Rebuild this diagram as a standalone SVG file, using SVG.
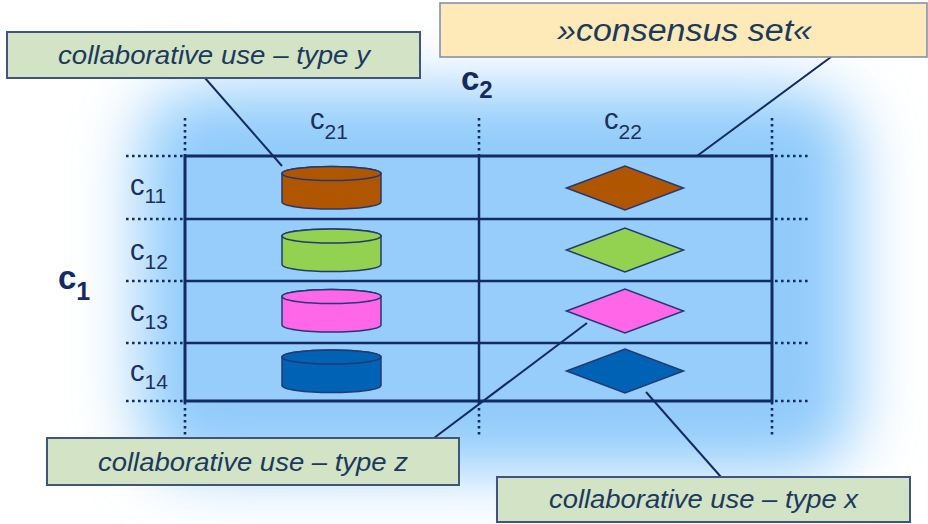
<svg xmlns="http://www.w3.org/2000/svg" xmlns:xlink="http://www.w3.org/1999/xlink" width="928" height="524" viewBox="0 0 928 524">
<style>
  .lbl { font-family: "Liberation Sans", Arial, sans-serif; font-style: italic; fill: #1b3a5c; }
  .cv { font-family: "Liberation Sans", Arial, sans-serif; fill: #1b3060; }
  .cb { font-family: "Liberation Sans", Arial, sans-serif; font-weight: bold; fill: #142a63; }
  .grid { fill: none; stroke: #142a63; }
  .dot { fill: none; stroke: #142a63; stroke-width: 2.6; stroke-dasharray: 2.6 3.4; }
  .conn { fill: none; stroke: #142a63; stroke-width: 2; }
  .gbox { fill: #d3e3c6; stroke: #3f5580; stroke-width: 2; }
  .ybox { fill: #fdeab8; stroke: #7d8aa8; stroke-width: 1.5; }
  .shape { stroke: #233a70; stroke-width: 1.5; }
</style>
<defs>
  <filter id="blur" x="-30%" y="-30%" width="160%" height="160%">
    <feGaussianBlur stdDeviation="32"/>
  </filter>
  <g id="cyl">
    <path d="M-49.5,0 v28.5 a49.5,7 0 0 0 99,0 v-28.5 a49.5,7 0 0 0 -99,0 z"/>
    <ellipse cx="0" cy="0" rx="49.5" ry="7"/>
  </g>
  <polygon id="dia" points="-58.5,0 0,-22 58.5,0 0,22"/>
</defs>

<rect width="928" height="524" fill="#ffffff"/>
<g id="glow">
  <rect x="140" y="90" width="715" height="380" rx="60" fill="#8fcbfb" filter="url(#blur)"/>
</g>

<g id="grid">
  <rect x="185" y="156" width="587" height="245" fill="#96cdfb"/>
  <line class="grid" stroke-width="2.5" x1="185" y1="219" x2="772" y2="219"/>
  <line class="grid" stroke-width="2.5" x1="185" y1="281" x2="772" y2="281"/>
  <line class="grid" stroke-width="2.5" x1="185" y1="343" x2="772" y2="343"/>
  <line class="grid" stroke-width="2.5" x1="479" y1="156" x2="479" y2="401"/>
  <rect class="grid" stroke-width="3" x="185" y="156" width="587" height="245"/>
  <g id="dotted">
    <line class="dot" x1="185" y1="118" x2="185" y2="155"/>
    <line class="dot" x1="479" y1="118" x2="479" y2="155"/>
    <line class="dot" x1="772" y1="118" x2="772" y2="155"/>
    <line class="dot" x1="185" y1="402" x2="185" y2="438"/>
    <line class="dot" x1="479" y1="402" x2="479" y2="438"/>
    <line class="dot" x1="772" y1="402" x2="772" y2="438"/>
    <line class="dot" x1="126" y1="156" x2="184" y2="156"/>
    <line class="dot" x1="126" y1="219" x2="184" y2="219"/>
    <line class="dot" x1="126" y1="281" x2="184" y2="281"/>
    <line class="dot" x1="126" y1="343" x2="184" y2="343"/>
    <line class="dot" x1="126" y1="401" x2="184" y2="401"/>
    <line class="dot" x1="775" y1="156" x2="810" y2="156"/>
    <line class="dot" x1="775" y1="219" x2="810" y2="219"/>
    <line class="dot" x1="775" y1="281" x2="810" y2="281"/>
    <line class="dot" x1="775" y1="343" x2="810" y2="343"/>
    <line class="dot" x1="775" y1="401" x2="810" y2="401"/>
  </g>
</g>

<g id="axis-labels">
  <text class="cb" x="461" y="90" font-size="33">c<tspan font-size="24" dy="8">2</tspan></text>
  <text class="cb" x="58" y="289" font-size="33">c<tspan font-size="25" dy="11">1</tspan></text>
  <text class="cv" x="310" y="129" font-size="29">c<tspan font-size="21" dy="10">21</tspan></text>
  <text class="cv" x="604" y="129" font-size="29">c<tspan font-size="21" dy="10">22</tspan></text>
  <text class="cv" x="130" y="195" font-size="29">c<tspan font-size="21" dy="8">11</tspan></text>
  <text class="cv" x="130" y="260" font-size="29">c<tspan font-size="21" dy="9">12</tspan></text>
  <text class="cv" x="130" y="321" font-size="29">c<tspan font-size="21" dy="8">13</tspan></text>
  <text class="cv" x="130" y="381" font-size="29">c<tspan font-size="21" dy="8">14</tspan></text>
</g>

<g id="cylinders">
  <use id="cyl-11" xlink:href="#cyl" href="#cyl" class="shape" fill="#b05500" transform="translate(331.5,173.5)"/>
  <use id="cyl-12" xlink:href="#cyl" href="#cyl" class="shape" fill="#93d150" transform="translate(331.5,236)"/>
  <use id="cyl-13" xlink:href="#cyl" href="#cyl" class="shape" fill="#ff66e8" transform="translate(331.5,296.5)"/>
  <use id="cyl-14" xlink:href="#cyl" href="#cyl" class="shape" fill="#0062b4" transform="translate(331.5,357)"/>
</g>

<g id="diamonds">
  <use id="dia-11" xlink:href="#dia" href="#dia" class="shape" fill="#b05500" transform="translate(625,188)"/>
  <use id="dia-12" xlink:href="#dia" href="#dia" class="shape" fill="#93d150" transform="translate(625,250)"/>
  <use id="dia-13" xlink:href="#dia" href="#dia" class="shape" fill="#ff66e8" transform="translate(625,311)"/>
  <use id="dia-14" xlink:href="#dia" href="#dia" class="shape" fill="#0062b4" transform="translate(625,371)"/>
</g>

<g id="connectors">
  <line class="conn" x1="205" y1="78" x2="282" y2="166"/>
  <line class="conn" x1="831" y1="57" x2="697" y2="156"/>
  <line class="conn" x1="434" y1="438" x2="587" y2="323"/>
  <line class="conn" x1="721" y1="477" x2="646" y2="392"/>
</g>

<g id="box-type-y">
  <rect class="gbox" x="7" y="32" width="413" height="46"/>
  <text class="lbl" x="214" y="64" font-size="25" text-anchor="middle" textLength="312" lengthAdjust="spacingAndGlyphs">collaborative use – type y</text>
</g>
<g id="box-consensus">
  <rect class="ybox" x="440" y="3" width="487" height="54"/>
  <text class="lbl" x="684.5" y="41" font-size="31" text-anchor="middle" textLength="255" lengthAdjust="spacingAndGlyphs">»consensus set«</text>
</g>
<g id="box-type-z">
  <rect class="gbox" x="47" y="438" width="412" height="47"/>
  <text class="lbl" x="253" y="471" font-size="25" text-anchor="middle" textLength="310" lengthAdjust="spacingAndGlyphs">collaborative use – type z</text>
</g>
<g id="box-type-x">
  <rect class="gbox" x="497" y="477" width="413" height="45"/>
  <text class="lbl" x="703.5" y="508" font-size="25" text-anchor="middle" textLength="309" lengthAdjust="spacingAndGlyphs">collaborative use – type x</text>
</g>
</svg>
